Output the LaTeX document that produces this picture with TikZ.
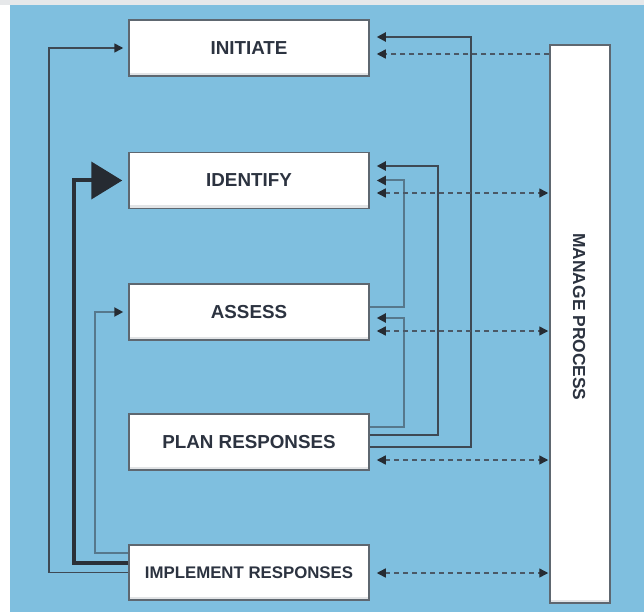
\documentclass[tikz,border=0pt]{standalone}
\usepackage{fontspec}
\newfontfamily\stagefont{Liberation Sans Bold}
\usetikzlibrary{arrows.meta,calc}

\definecolor{bgblue}{HTML}{7FBFDF}
\definecolor{topgrey}{HTML}{E6E8EA}
\definecolor{boxline}{HTML}{5E6770}
\definecolor{boxshade}{HTML}{E2E4E6}
\definecolor{inktext}{HTML}{2C3340}
\definecolor{darkline}{HTML}{3E4954}
\definecolor{heavyline}{HTML}{2A3038}
\definecolor{paleline}{HTML}{56788C}
\definecolor{dashline}{HTML}{4A5866}
\definecolor{tipcol}{HTML}{262B32}

\tikzset{
  stage/.style={draw=boxline, line width=1.5pt, fill=white,
    text=inktext, font=\stagefont\fontsize{18.8}{22}\selectfont,
    inner sep=0pt,
    path picture={\fill[boxshade] (path picture bounding box.south west)
      rectangle ([yshift=3pt]path picture bounding box.south east);}},
  stagebox/.style={stage, minimum width=240pt, minimum height=56pt},
  tipend/.style={-{Triangle[length=9pt,width=9pt,color=tipcol]}},
  tipboth/.style={{Triangle[length=9pt,width=9pt,color=tipcol]}-{Triangle[length=9pt,width=9pt,color=tipcol]}},
  feedthin/.style={draw=darkline, line width=1.6pt, tipend, shorten >=5pt},
  feedheavy/.style={draw=heavyline, line width=4pt,
    -{Triangle[length=31pt,width=37pt,color=tipcol]}, shorten >=6pt},
  feedpale/.style={draw=paleline, line width=2pt, tipend, shorten >=5pt},
  backdark/.style={draw=darkline, line width=2pt, tipend, shorten >=7pt},
  backpale/.style={draw=paleline, line width=2pt, tipend, shorten >=7pt},
  ctrl/.style={draw=dashline, line width=1.4pt, dash pattern=on 5pt off 4pt}
}

\begin{document}
\begin{tikzpicture}[x=1pt,y=-1pt]
\useasboundingbox (0,0) rectangle (644,612);
% page ground
\fill[white] (0,0) rectangle (644,612);
\fill[topgrey] (0,0) rectangle (644,5);
\fill[bgblue] (10,5) rectangle (644,612);

% process stages
\node[stagebox] (init)   at (249,48)    {INITIATE};
\node[stagebox] (ident)  at (249,180.5) {IDENTIFY};
\node[stagebox] (assess) at (249,312)   {ASSESS};
\node[stagebox] (plan)   at (249,442)   {PLAN RESPONSES};
\node[stagebox, minimum height=55pt, font=\stagefont\fontsize{16.8}{20}\selectfont]
  (impl) at (249,572.5) {IMPLEMENT RESPONSES};

% overall management bar
\node[stage, minimum width=60pt, minimum height=558pt] (manage) at (580,324) {};
\node[rotate=-90, text=inktext, font=\stagefont\fontsize{17.4}{20}\selectfont]
  (managelabel) at (579,317) {MANAGE PROCESS};

% feedback from implementation (left side)
\draw[feedthin] (impl.west) -| ($(init.west)+(-79,0)$) -- (init.west);
\draw[feedheavy] ($(impl.west)+(0,-9.5)$) -| ($(ident.west)+(-54,0)$) -- (ident.west);
\draw[feedpale] ($(impl.west)+(0,-19.5)$) -| ($(assess.west)+(-33,0)$) -- (assess.west);

% feedback from planning and assessment (right side)
\coordinate (pA) at ($(plan.east)+(0,5)$);
\coordinate (pB) at ($(plan.east)+(0,-7)$);
\coordinate (pC) at ($(plan.east)+(0,-15)$);
\coordinate (aD) at ($(assess.east)+(0,-5)$);
\draw[backdark] (pA) -| ($(init.east)+(101,-11)$) -- ($(init.east)+(0,-11)$);
\draw[backdark] (pB) -| ($(ident.east)+(68,-14.5)$) -- ($(ident.east)+(0,-14.5)$);
\draw[backpale] (pC) -| ($(assess.east)+(34,6)$) -- ($(assess.east)+(0,6)$);
\draw[backpale] (aD) -| ($(ident.east)+(34,0)$) -- (ident.east);

% control links with the management bar
\coordinate (c1) at ($(init.east)+(0,6)$);
\coordinate (c2) at ($(ident.east)+(0,12.5)$);
\coordinate (c3) at ($(assess.east)+(0,19)$);
\coordinate (c4) at ($(plan.east)+(0,18)$);
\coordinate (c5) at ($(impl.east)+(0,0.5)$);
\draw[ctrl, tipend, shorten >=7pt] (c1 -| manage.west) -- (c1);
\draw[ctrl, tipboth, shorten <=7pt, shorten >=1pt] (c2) -- (c2 -| manage.west);
\draw[ctrl, tipboth, shorten <=7pt, shorten >=1pt] (c3) -- (c3 -| manage.west);
\draw[ctrl, tipboth, shorten <=7pt, shorten >=1pt] (c4) -- (c4 -| manage.west);
\draw[ctrl, tipboth, shorten <=7pt, shorten >=1pt] (c5) -- (c5 -| manage.west);
\end{tikzpicture}
\end{document}
